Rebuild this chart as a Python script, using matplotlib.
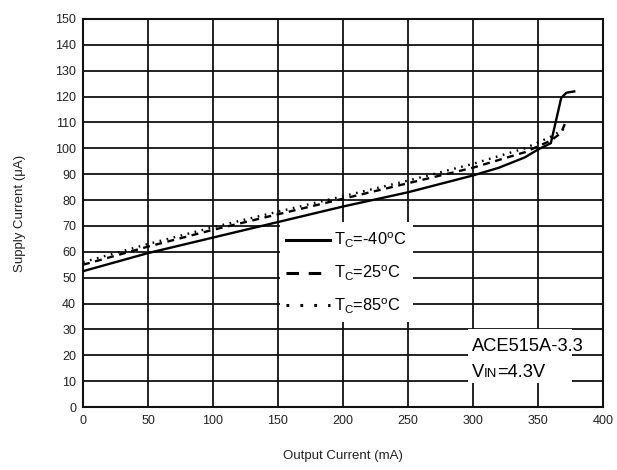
import matplotlib
matplotlib.use("Agg")
import matplotlib.pyplot as plt
from matplotlib.lines import Line2D
from matplotlib.patches import Rectangle

plt.rcParams['font.family'] = ['Liberation Sans', 'DejaVu Sans']
plt.rcParams['mathtext.fontset'] = 'custom'
plt.rcParams['mathtext.rm'] = 'Liberation Sans'
plt.rcParams['mathtext.it'] = 'Liberation Sans'
plt.rcParams['lines.scale_dashes'] = False

# Supply current vs output current at three case temperatures
x_m40 = [0, 50, 100, 150, 200, 250, 300, 320, 340, 350, 360, 368, 372, 378]
i_m40 = [52.5, 59.5, 65.5, 71.5, 77.5, 83.0, 89.5, 92.5, 96.5, 99.5, 102.0, 119.5, 121.5, 122.0]

x_25 = [0, 50, 100, 150, 200, 250, 300, 340, 360, 368, 372]
i_25 = [55.0, 62.0, 68.5, 74.5, 80.5, 86.5, 92.5, 98.5, 103.0, 106.0, 111.0]

x_85 = [0, 50, 100, 150, 200, 250, 300, 340, 360, 370]
i_85 = [56.0, 63.0, 69.5, 75.5, 81.5, 87.5, 94.0, 100.0, 104.5, 107.5]

labels = [r'T$_\mathrm{C}$=-40$^\mathrm{o}$C',
          r'T$_\mathrm{C}$=25$^\mathrm{o}$C',
          r'T$_\mathrm{C}$=85$^\mathrm{o}$C']

x_ticks = list(range(0, 401, 50))
y_ticks = list(range(0, 151, 10))

fig = plt.figure(figsize=(6.17, 4.70), dpi=100)
ax = fig.add_axes([0.1345, 0.134, 0.8425, 0.8256])

ax.set_xlim(0, 400)
ax.set_ylim(0, 150)
ax.set_xticks(x_ticks)
ax.set_yticks(y_ticks)
ax.tick_params(length=0, labelsize=9, colors='#222222')
ax.tick_params(axis='x', pad=6)
ax.tick_params(axis='y', pad=5)
ax.grid(True, color='#111111', lw=1.3)
ax.set_axisbelow(True)
for s in ax.spines.values():
    s.set_color('#111111')
    s.set_linewidth(1.5)

ax.plot(x_m40, i_m40, color='black', lw=1.7, zorder=4)
ax.plot(x_25, i_25, color='black', lw=1.7, dashes=(5, 4), zorder=4)
ax.plot(x_85, i_85, color='black', lw=1.7, dashes=(1.2, 4), zorder=4)

# white panels behind the legend and the part-number note
ax.add_patch(Rectangle((0.379, 0.219), 0.256, 0.258, transform=ax.transAxes,
                       facecolor='white', edgecolor='none', zorder=2))
ax.add_patch(Rectangle((0.740, 0.062), 0.200, 0.139, transform=ax.transAxes,
                       facecolor='white', edgecolor='none', zorder=2))

handles = [Line2D([], [], color='black', lw=2.2),
           Line2D([], [], color='black', lw=2.2, dashes=(9, 7)),
           Line2D([], [], color='black', lw=2.2, dashes=(2, 8))]
leg = ax.legend(handles, labels, loc='upper left', bbox_to_anchor=(0.384, 0.462),
                frameon=False, fontsize=11.8, handlelength=2.7, handletextpad=0.25,
                labelspacing=0.82, borderpad=0.2, borderaxespad=0)
leg.set_zorder(5)

fs = 13.2
t1 = ax.text(0.748, 0.155, 'ACE515A-3.3', transform=ax.transAxes, fontsize=fs,
             va='center', ha='left', zorder=5)
t2 = ax.text(0.748, 0.088, 'V', transform=ax.transAxes, fontsize=fs,
             va='center', ha='left', zorder=5)
t3 = ax.annotate('IN', xy=(1, 0), xycoords=t2, fontsize=9.5, va='bottom', ha='left',
                 xytext=(0, 0.9), textcoords='offset points', zorder=5)
ax.annotate('=4.3V', xy=(1, 0), xycoords=t3, fontsize=fs, va='bottom', ha='left',
            xytext=(0, -0.9), textcoords='offset points', zorder=5)

ax.set_xlabel('Output Current (mA)', fontsize=9.5, labelpad=16, color='#222222')
ax.set_ylabel('Supply Current (\u03bcA)', fontsize=9.5, labelpad=21, color='#222222')

fig.savefig('out.png', dpi=100, facecolor='white')
